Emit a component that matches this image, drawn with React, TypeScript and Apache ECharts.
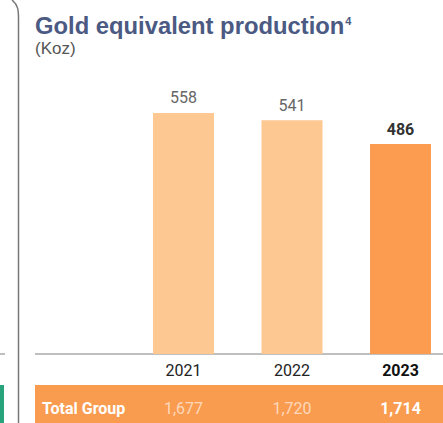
import React, { useEffect, useRef } from "react";
import * as echarts from "echarts";

const years = ["2021", "2022", "2023"];
const production = [558, 541, 486];
const totals = ["1,677", "1,720", "1,714"];
const rowLabel = "Total Group";
const title = "Gold equivalent production";
const titleNote = "4";
const unit = "(Koz)";

const LIGHT = "#fec892";
const DARK = "#fc9c50";
const BAND = "#fa9c50";

export default function App() {
  const ref = useRef<HTMLDivElement>(null);
  useEffect(() => {
    const chart = echarts.init(ref.current!, undefined, { renderer: "svg" });
    const last = years.length - 1;
    chart.setOption({
      animation: false,
      grid: { left: 129.25, width: 325.5, top: 94.8, height: 259.2, outerBoundsMode: "none", containLabel: false },
      xAxis: {
        type: "category",
        data: years,
        axisLine: { show: false },
        axisTick: { show: false },
        axisLabel: {
          margin: 6,
          formatter: (v: string, i: number) => {
            const b = i === last ? "b" : "";
            return `{y${b}|${v}}\n{t${b}|${totals[i]}}`;
          },
          rich: {
            y: { fontFamily: "Roboto", fontSize: 16, color: "#222", lineHeight: 20 },
            yb: { fontFamily: "Roboto", fontSize: 16, fontWeight: "bold", color: "#111", lineHeight: 20 },
            t: { fontFamily: "Roboto", fontSize: 16, color: "rgba(255,255,255,0.62)", lineHeight: 56 },
            tb: { fontFamily: "Roboto", fontSize: 16, fontWeight: "bold", color: "#ffffff", lineHeight: 56 },
          },
        },
      },
      yAxis: { type: "value", min: 0, max: 600, show: false, splitLine: { show: false } },
      series: [
        {
          type: "bar",
          barWidth: 61,
          data: production.map((v, i) => ({
            value: v,
            itemStyle: { color: i === last ? DARK : LIGHT },
            label: i === last ? { fontWeight: "bold", color: "#333" } : {},
          })),
          label: {
            show: true,
            position: "top",
            distance: 7,
            fontFamily: "Roboto",
            fontSize: 16,
            color: "#666",
          },
        },
      ],
      graphic: [
        { type: "rect", z: -1, shape: { x: 35, y: 385, width: 408, height: 38 }, style: { fill: BAND } },
        { type: "line", shape: { x1: 35, y1: 354, x2: 443, y2: 354 }, style: { stroke: "#aaa", lineWidth: 1.5 } },
        { type: "line", shape: { x1: 0, y1: 354, x2: 5, y2: 354 }, style: { stroke: "#aaa", lineWidth: 1.5 } },
        { type: "rect", shape: { x: 0, y: 385, width: 4, height: 38 }, style: { fill: "#27a47b" } },
        {
          type: "bezierCurve",
          shape: { x1: 12, y1: 0, cpx1: 18, cpy1: 5, cpx2: 18.5, cpy2: 10, x2: 18.5, y2: 18 },
          style: { stroke: "#777", lineWidth: 1.5, fill: null },
        },
        { type: "line", shape: { x1: 18.5, y1: 18, x2: 18.5, y2: 423 }, style: { stroke: "#777", lineWidth: 1.5 } },
        {
          type: "text",
          x: 42,
          y: 408,
          style: { text: rowLabel, fill: "#fff", font: "bold 16px Roboto", verticalAlign: "middle" },
        },
        {
          type: "text",
          x: 35,
          y: 37,
          style: {
            text: `{m|${title}}{s|${titleNote}}`,
            verticalAlign: "bottom",
            rich: {
              m: { font: "bold 23.8px 'Liberation Sans'", fill: "#4b5a82" },
              s: { font: "bold 11px 'Liberation Sans'", fill: "#4b5a82", verticalAlign: "top", padding: [2, 0, 10, 1] },
            },
          },
        },
        {
          type: "text",
          x: 35,
          y: 48,
          style: { text: unit, font: "17px 'Liberation Sans'", fill: "#555", verticalAlign: "middle" },
        },
      ],
    });
    return () => chart.dispose();
  }, []);
  return (
    <div
      ref={ref}
      style={{ position: "absolute", left: 0, top: 0, width: 443, height: 423, background: "#fff" }}
    />
  );
}
